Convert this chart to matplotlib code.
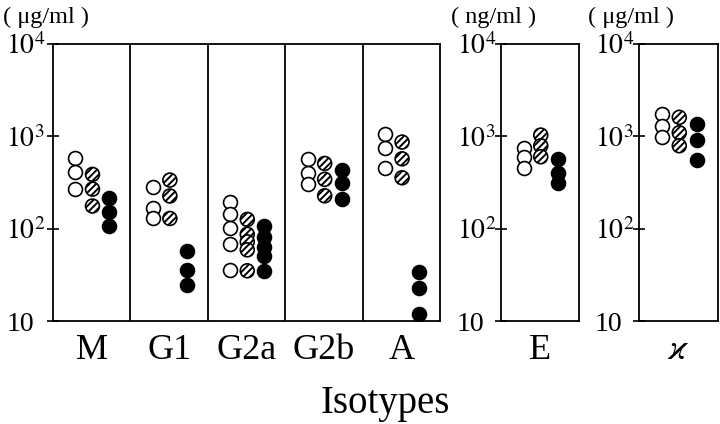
import numpy as np
import matplotlib
matplotlib.use('Agg')
import matplotlib.pyplot as plt

plt.rcParams['font.family'] = ['Liberation Serif', 'DejaVu Serif']
plt.rcParams['mathtext.fontset'] = 'stix'
plt.rcParams['hatch.linewidth'] = 1.4

# serum levels (log scale)
groups = ['M', 'G1', 'G2a', 'G2b', 'A']
open_vals = [[582, 410, 268],
             [280, 168, 131],
             [193, 143, 101, 68, 36],
             [564, 397, 302],
             [1060, 741, 457]]
hatched_vals = [[387, 268, 176],
                [336, 226, 129],
                [126, 87, 72, 59, 35],
                [509, 342, 227],
                [867, 571, 356]]
filled_vals = [[213, 150, 107],
               [58, 36, 24.5],
               [107, 82, 64, 50, 35],
               [431, 310, 210],
               [34, 22.5, 12]]

E_open = [752, 601, 457]
E_hatched = [1032, 791, 601]
E_filled = [564, 404, 310]

k_open = [1730, 1294, 991]
k_hatched = [1607, 1094, 791]
k_filled = [1350, 912, 553]

yticks = [10, 100, 1000, 10000]
yticklabels = ['10', r'$10^2$', r'$10^3$', r'$10^4$']

offs = [0.29, 0.51, 0.73]
S = 100


def draw_group(ax, x0, o, h, f):
    ax.scatter([x0 + offs[0]] * len(o), o, s=S, facecolor='white',
               edgecolor='black', linewidth=1.2, zorder=3)
    ax.scatter([x0 + offs[1]] * len(h), h, s=S, facecolor='white',
               edgecolor='black', linewidth=1.2, hatch='/////', zorder=3)
    ax.scatter([x0 + offs[2]] * len(f), f, s=S, facecolor='black',
               edgecolor='black', linewidth=1.2, zorder=3)


def setup(ax, ncol, pad):
    ax.set_yscale('log')
    ax.set_ylim(10, 10000)
    ax.set_xlim(0, ncol)
    ax.set_yticks(yticks)
    ax.set_yticklabels(yticklabels, fontsize=20, ha='left')
    ax.minorticks_off()
    ax.tick_params(axis='y', direction='inout', length=9, width=1.2, pad=pad)
    ax.tick_params(axis='x', length=0, pad=9, labelsize=26)
    for sp in ax.spines.values():
        sp.set_linewidth(1.3)


fig = plt.figure(figsize=(7.2, 4.24), dpi=100)
ax1 = fig.add_axes([0.0736, 0.2429, 0.5375, 0.6533])
ax2 = fig.add_axes([0.6958, 0.2429, 0.1083, 0.6533])
ax3 = fig.add_axes([0.8875, 0.2429, 0.1097, 0.6533])

setup(ax1, len(groups), 29)
for i in range(len(groups)):
    draw_group(ax1, i, open_vals[i], hatched_vals[i], filled_vals[i])
    if i > 0:
        ax1.axvline(i, color='black', linewidth=1.3)
ax1.set_xticks(np.arange(len(groups)) + 0.5)
ax1.set_xticklabels(groups)

setup(ax2, 1, 27.5)
draw_group(ax2, 0, E_open, E_hatched, E_filled)
ax2.set_xticks([0.5])
ax2.set_xticklabels(['E'])

setup(ax3, 1, 27.5)
draw_group(ax3, 0, k_open, k_hatched, k_filled)
ax3.set_xticks([0.5])
ax3.set_xticklabels([r'$\varkappa$'])

fig.text(0.004, 0.96, '( \u03bcg/ml )', fontsize=17.5, va='center', ha='left')
fig.text(0.627, 0.96, '( ng/ml )', fontsize=17.5, va='center', ha='left')
fig.text(0.816, 0.96, '( \u03bcg/ml )', fontsize=17.5, va='center', ha='left')
fig.text(0.535, 0.026, 'Isotypes', fontsize=28, va='baseline', ha='center')

fig.savefig('out.png', dpi=100)
